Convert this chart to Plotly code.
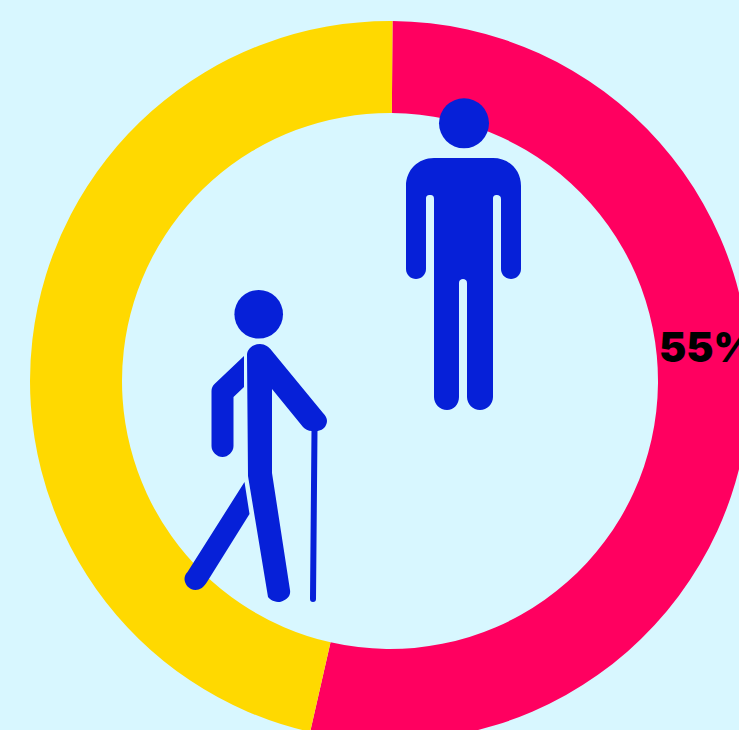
import plotly.graph_objects as go

# Donut data
segments = ["Men", "Others"]
share_values = [55, 47.9]
segment_colors = ["#FF0060", "#FFD900"]
BACKGROUND = "#D8F7FF"
ICON_BLUE = "#0620D8"

# Canvas runs a little past the window so that the ring is cropped on the right and bottom
WIDTH, HEIGHT = 780, 762
CX, CY, R_OUT, R_IN = 390, 381, 360, 268

# Standing figure, outlined in canvas pixels
STANDING_BODY = (
    "M 406 186 C 406 170 418 158 434 158 L 493 158 C 509 158 521 170 521 186 "
    "L 521 269 C 521 275 516 279 511 279 C 506 279 501 275 501 269 "
    "L 501 199 C 501 196 499 195 497 195 C 494 195 493 196 493 199 "
    "L 493 397 C 493 404 487 410 480 410 C 473 410 467 404 467 397 "
    "L 467 283 C 467 280 465 279 463 279 C 461 279 459 280 459 283 "
    "L 459 397 C 459 404 454 410 447 410 C 440 410 434 404 434 397 "
    "L 434 199 C 434 196 433 195 430 195 C 427 195 426 196 426 199 "
    "L 426 269 C 426 275 421 279 416 279 C 411 279 406 275 406 269 Z"
)

# Walking figure with a cane
WALKER_TORSO = (
    "M 247 355 C 247 349 253 344 260 344 C 265 344 269 347 272 351 "
    "L 323 413 C 327 417 328 421 326 425 C 324 430 318 432 312 431 "
    "C 308 431 305 429 303 427 L 272 389 L 272 473 L 290 590 "
    "C 291 596 287 600 280 602 C 275 602 270 600 268 597 L 248 476 Z"
)
WALKER_BACK_ARM = (
    "M 244 356 L 244 387 L 233.5 397 L 233.5 446 C 233.5 452 228 457 222.5 457 "
    "C 217 457 211.5 452 211.5 446 L 211.5 391 C 211.5 388 212.5 386 214.5 384 Z"
)
WALKER_BACK_LEG = (
    "M 244.5 482 L 249.5 514 L 207 582 C 204 587 200 590 195.5 590 "
    "C 189 590 184.5 584 184.5 579 C 184.5 576 185.5 574 187.5 572 Z"
)
WALKER_CANE = (
    "M 311.5 430 L 317.5 430 L 316 599 C 316 601 315 602 313 602 "
    "C 311 602 310 601 310 599 Z"
)


def head(x, y, r):
    return dict(type="circle", xref="x", yref="y", layer="above",
                x0=x - r, x1=x + r, y0=y - r, y1=y + r,
                fillcolor=ICON_BLUE, line_width=0)


def outline(path):
    return dict(type="path", xref="x", yref="y", layer="above", path=path,
                fillcolor=ICON_BLUE, line_width=0)


fig = go.Figure()

fig.add_trace(go.Pie(
    labels=segments,
    values=share_values,
    hole=R_IN / R_OUT,
    sort=False,
    direction="clockwise",
    rotation=0.4,
    marker=dict(colors=segment_colors, line=dict(width=0)),
    textinfo="none",
    hoverinfo="skip",
    showlegend=False,
    domain=dict(
        x=[(CX - R_OUT) / WIDTH, (CX + R_OUT) / WIDTH],
        y=[(HEIGHT - CY - R_OUT) / HEIGHT, (HEIGHT - CY + R_OUT) / HEIGHT],
    ),
))

fig.update_layout(
    width=WIDTH,
    height=HEIGHT,
    autosize=False,
    margin=dict(l=0, r=0, t=0, b=0),
    paper_bgcolor=BACKGROUND,
    plot_bgcolor="rgba(0,0,0,0)",
    xaxis=dict(range=[0, WIDTH], visible=False, fixedrange=True),
    yaxis=dict(range=[HEIGHT, 0], visible=False, fixedrange=True),
    shapes=[
        head(464, 123.3, 25),
        outline(STANDING_BODY),
        head(258.7, 314.3, 24.3),
        outline(WALKER_TORSO),
        outline(WALKER_BACK_ARM),
        outline(WALKER_BACK_LEG),
        outline(WALKER_CANE),
    ],
    annotations=[dict(
        x=657, y=347, xref="x", yref="y",
        xanchor="left", yanchor="middle",
        text=f"{share_values[0]}%",
        showarrow=False,
        font=dict(family="Inter", size=41, color="#000000", weight=900),
    )],
)

fig.write_html(
    "out.html",
    config=dict(displayModeBar=False),
    post_script=(
        "document.documentElement.style.overflow='hidden';"
        "document.body.style.overflow='hidden';"
        "document.body.style.margin='0';"
    ),
)
